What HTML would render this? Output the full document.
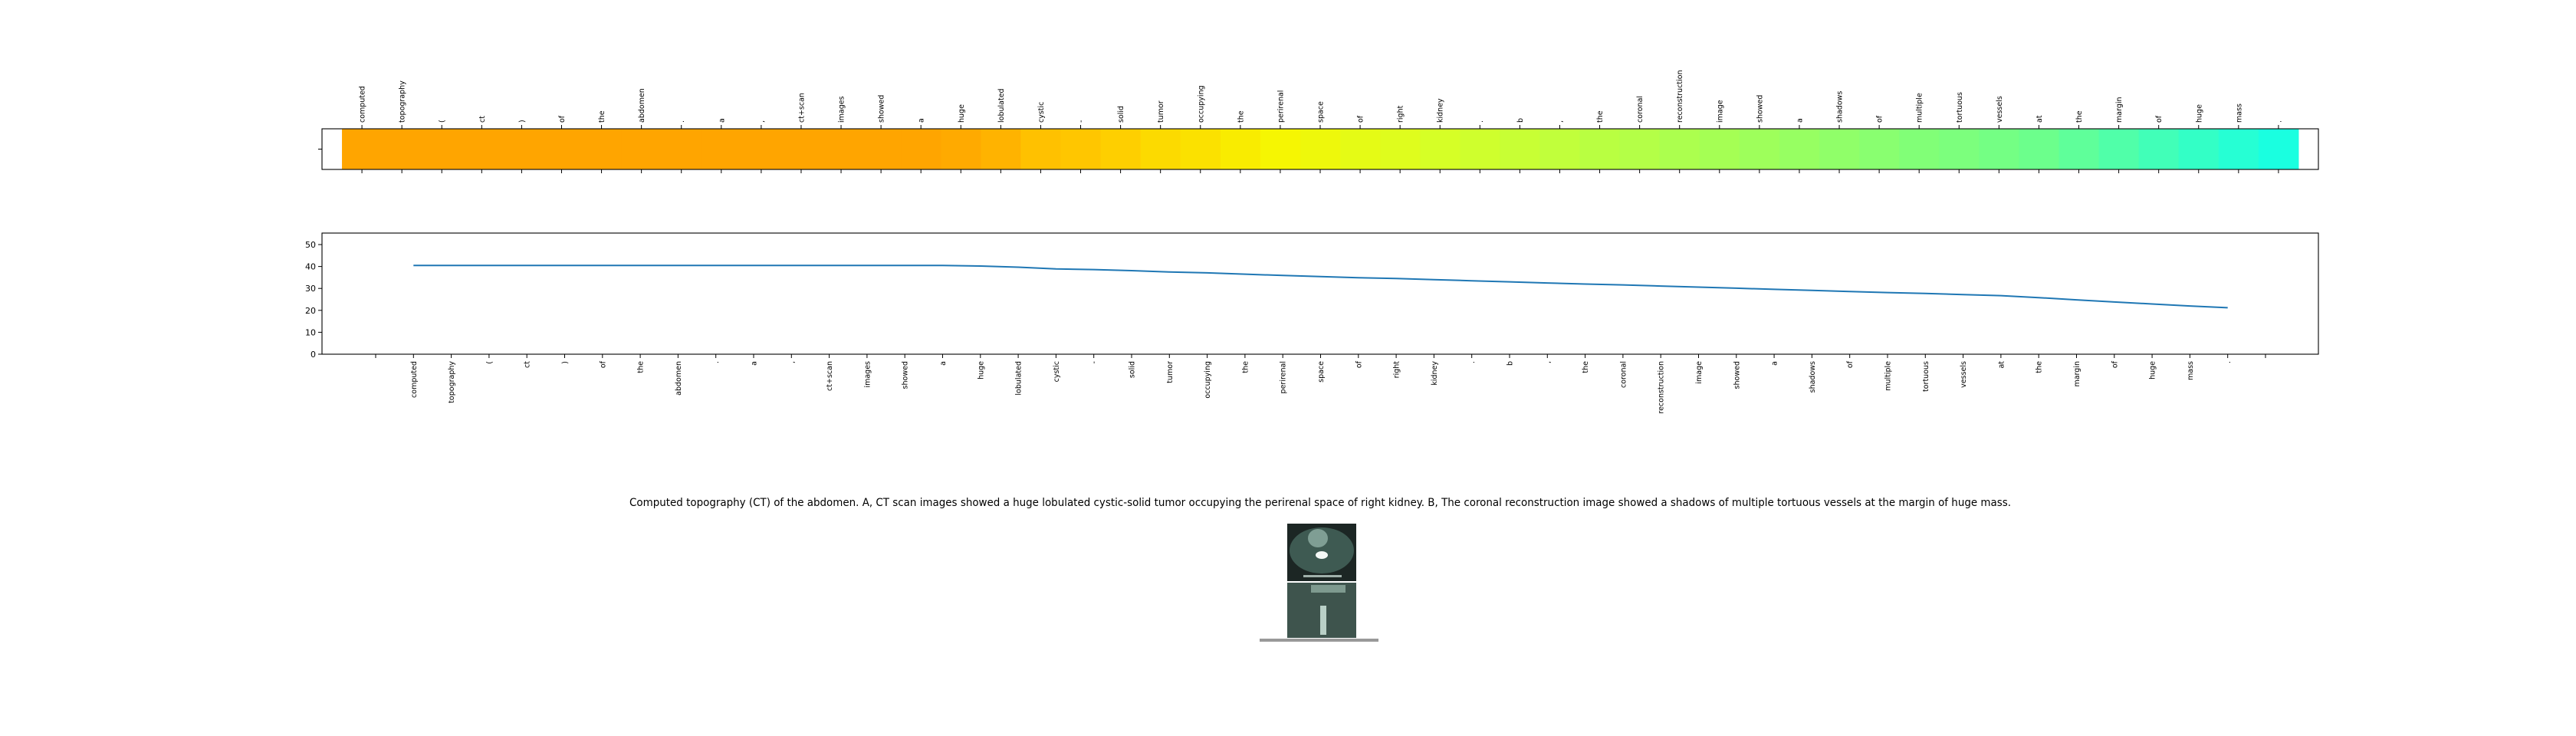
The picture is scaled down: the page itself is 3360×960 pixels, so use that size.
<!DOCTYPE html>
<html><head><meta charset="utf-8"><style>
html,body{margin:0;padding:0;background:#fff;}
svg{display:block;font-family:"DejaVu Sans","Liberation Sans",sans-serif;}
</style></head><body>
<svg id="fig" width="3360" height="960" viewBox="0 0 3360 960" xmlns="http://www.w3.org/2000/svg">
<g id="heat"></g>
<g id="line"></g>
<text x="1722" y="660" font-size="14" text-anchor="middle" textLength="1802" lengthAdjust="spacingAndGlyphs">Computed topography (CT) of the abdomen. A, CT scan images showed a huge lobulated cystic-solid tumor occupying the perirenal space of right kidney. B, The coronal reconstruction image showed a shadows of multiple tortuous vessels at the margin of huge mass.</text>
<g>
  <rect x="1679" y="683" width="90" height="75" fill="#1c2624"/>
  <ellipse cx="1724" cy="718" rx="42" ry="30" fill="#3e5a52"/>
  <ellipse cx="1719" cy="702" rx="13" ry="12" fill="#7f9e94"/>
  <ellipse cx="1724" cy="724" rx="8" ry="5" fill="#f4f8f6"/>
  <rect x="1700" y="750" width="50" height="3" fill="#9fb0aa"/>
  <rect x="1679" y="760" width="90" height="72" fill="#3e544d"/>
  <rect x="1710" y="763" width="45" height="10" fill="#7e9a8f"/>
  <rect x="1722" y="790" width="8" height="38" fill="#b9d0c7"/>
  <rect x="1643" y="833" width="155" height="4" fill="#999"/>
</g>
</svg>
<script>
const tokens = ["computed","topography","(","ct",")","of","the","abdomen",".","a",",","ct+scan","images","showed","a","huge","lobulated","cystic","-","solid","tumor","occupying","the","perirenal","space","of","right","kidney",".","b",",","the","coronal","reconstruction","image","showed","a","shadows","of","multiple","tortuous","vessels","at","the","margin","of","huge","mass","."];
const values = [40.5,40.5,40.5,40.5,40.5,40.5,40.5,40.5,40.5,40.5,40.5,40.5,40.5,40.5,40.5,40.2,39.7,38.9,38.6,38.1,37.5,37.1,36.5,35.9,35.4,34.9,34.5,34.0,33.5,33.0,32.5,32.0,31.6,31.1,30.6,30.1,29.6,29.1,28.6,28.1,27.7,27.2,26.7,25.8,24.8,23.8,22.9,22.0,21.2];
const yTicks = [0,10,20,30,40,50];

const NS = "http://www.w3.org/2000/svg";
function mk(tag, attrs, parent){const e=document.createElementNS(NS,tag);for(const k in attrs)e.setAttribute(k,attrs[k]);parent.appendChild(e);return e;}
function hex(c){return [parseInt(c.slice(1,3),16),parseInt(c.slice(3,5),16),parseInt(c.slice(5,7),16)];}
const stops=[[21.2,'#1affe0'],[28,'#80ff78'],[34,'#d6ff26'],[36,'#f8f500'],[38.5,'#ffc800'],[40.5,'#ffa500']];
function color(v){
  if(v<=stops[0][0])return stops[0][1];
  for(let i=1;i<stops.length;i++){if(v<=stops[i][0]){const t=(v-stops[i-1][0])/(stops[i][0]-stops[i-1][0]);const a=hex(stops[i-1][1]),b=hex(stops[i][1]);return 'rgb('+a.map((x,j)=>Math.round(x+(b[j]-x)*t)).join(',')+')';}}
  return stops[stops.length-1][1];
}

// Heatmap
const H=document.getElementById('heat');
const hx0=420,hx1=3024,hy0=168,hy1=221;
const hxs=i=>hx0+(i+1)*(hx1-hx0)/50;
const cw=(hx1-hx0)/50;
values.forEach((v,i)=>{
  const r=mk('rect',{x:hxs(i)-cw/2,y:hy0,width:cw+0.5,height:hy1-hy0,fill:color(v)},H);
  
  
});
const hf=mk('rect',{x:hx0,y:hy0,width:hx1-hx0,height:hy1-hy0,fill:'none',stroke:'#000','stroke-width':1.1},H);


mk('line',{x1:hx0-5,y1:(hy0+hy1)/2,x2:hx0,y2:(hy0+hy1)/2,stroke:'#000'},H);
tokens.forEach((t,i)=>{
  const x=hxs(i);
  mk('line',{x1:x,y1:hy0-5,x2:x,y2:hy0,stroke:'#000'},H);
  mk('line',{x1:x,y1:hy1,x2:x,y2:hy1+5,stroke:'#000'},H);
  const tx=mk('text',{transform:'translate('+(x+3.5)+','+(hy0-8)+') rotate(-90)','font-size':9.5},H);
  tx.textContent=t;
  
  
});

// Line chart
const L=document.getElementById('line');
const lx0=420,lx1=3024,ly0=304,ly1=462;
const xmin=-1.42,xmax=51.4,ymax=55.25;
const X=v=>lx0+(v-xmin)/(xmax-xmin)*(lx1-lx0);
const Y=v=>ly1-v/ymax*(ly1-ly0);
const lf=mk('rect',{x:lx0,y:ly0,width:lx1-lx0,height:ly1-ly0,fill:'none',stroke:'#000','stroke-width':1.1},L);


yTicks.forEach(v=>{
  mk('line',{x1:lx0-5,y1:Y(v),x2:lx0,y2:Y(v),stroke:'#000'},L);
  const t=mk('text',{x:lx0-8,y:Y(v)+4,'font-size':11,'text-anchor':'end'},L);
  t.textContent=v;
  
  
});
const xlabels=[''].concat(tokens).concat(['']);
xlabels.forEach((t,i)=>{
  const x=X(i);
  mk('line',{x1:x,y1:ly1,x2:x,y2:ly1+5,stroke:'#000'},L);
  if(t){
    const tx=mk('text',{transform:'translate('+(x+3.5)+','+(ly1+9)+') rotate(-90)','font-size':9.5,'text-anchor':'end'},L);
    tx.textContent=t;
    
    
  }
});
const pts=values.map((v,i)=>X(i+1).toFixed(1)+','+Y(v).toFixed(1)).join(' ');
const pl=mk('polyline',{points:pts,fill:'none',stroke:'#1f77b4','stroke-width':2},L);


</script>
</body></html>
